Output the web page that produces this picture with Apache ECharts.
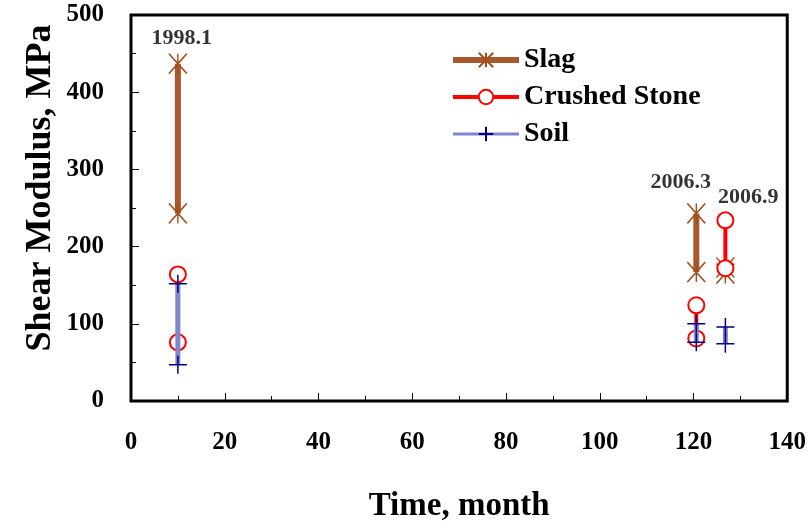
<!DOCTYPE html>
<html>
<head>
<meta charset="utf-8">
<style>
  html, body { margin: 0; padding: 0; background: #fff; }
  #main { width: 809px; height: 528px; }
</style>
<script src="https://cdn.jsdelivr.net/npm/echarts@6/dist/echarts.min.js"></script>
</head>
<body>
<div id="main"></div>
<script>
// values: [month, modulus], '-' breaks the line
var slag = [[10, 437], [10, 243], [10, '-'], [120.6, 243], [120.6, 167], [120.6, '-'], [126.8, 173], [126.8, 165]];
var crushedStone = [[10, 164], [10, 76], [10, '-'], [120.6, 124], [120.6, 81], [120.6, '-'], [126.8, 234], [126.8, 172]];
var soil = [[10, 152], [10, 47], [10, '-'], [120.6, 100], [120.6, 76], [120.6, '-'], [126.8, 96], [126.8, 74]];
var dateLabels = [
  { name: "1998.1", value: [10.8, 470] },
  { name: "2006.3", value: [117.3, 283] },
  { name: "2006.9", value: [131.7, 264] }
];
var xTicks = [0, 140, 20];
var yTicks = [0, 500, 100];

var font = "'Liberation Serif', 'Times New Roman', serif";
var myChart = echarts.init(document.getElementById("main"));

myChart.setOption({
  animation: false,
  textStyle: { fontFamily: font },
  grid: {
    left: 131, right: 16, top: 15, bottom: 126,
    show: true, borderColor: "#000", borderWidth: 3
  },
  legend: {
    left: 450, top: 46, orient: "vertical", padding: 0,
    itemWidth: 66, itemHeight: 18, itemGap: 9,
    textStyle: { fontFamily: font, fontWeight: "bold", fontSize: 28, color: "#000" },
    data: [
      { name: "Slag", lineStyle: { width: 6 } },
      { name: "Crushed Stone", lineStyle: { width: 4 } },
      { name: "Soil", lineStyle: { width: 3 } }
    ]
  },
  xAxis: {
    type: "value", min: xTicks[0], max: xTicks[1], interval: xTicks[2],
    name: "Time, month", nameLocation: "middle", nameGap: 89,
    nameTextStyle: { fontFamily: font, fontWeight: "bold", fontSize: 33, color: "#000" },
    axisLine: { show: false },
    axisTick: { inside: true, length: 8, lineStyle: { color: "#000", width: 1 } },
    minorTick: { show: true, splitNumber: 2, length: 5, lineStyle: { color: "#000" } },
    splitLine: { show: false },
    axisLabel: { margin: 29, fontFamily: font, fontWeight: "bold", fontSize: 25, color: "#000" }
  },
  yAxis: {
    type: "value", min: yTicks[0], max: yTicks[1], interval: yTicks[2],
    axisLine: { show: false },
    axisTick: { inside: true, length: 8, lineStyle: { color: "#000", width: 1 } },
    minorTick: { show: true, splitNumber: 2, length: 5, lineStyle: { color: "#000" } },
    splitLine: { show: false },
    axisLabel: { margin: 27, fontFamily: font, fontWeight: "bold", fontSize: 25, color: "#000" }
  },
  graphic: [{
    type: "text", x: 41, y: 188, rotation: Math.PI / 2,
    style: {
      text: "Shear Modulus, MPa", fill: "#000",
      font: "bold 36px " + font, align: "center", verticalAlign: "middle"
    }
  }],
  series: [
    {
      name: "Slag", type: "line", data: slag, connectNulls: false,
      lineStyle: { color: "#A8582A", width: 6 },
      symbol: "path://M0,0 L10,10 M10,0 L0,10 M5,0 L5,10", symbolSize: [18, 20],
      itemStyle: { color: "none", borderColor: "#A0501E", borderWidth: 1.5 },
      z: 2
    },
    {
      name: "Crushed Stone", type: "line", data: crushedStone, connectNulls: false,
      lineStyle: { color: "#FF0000", width: 4 },
      symbol: "emptyCircle", symbolSize: 16,
      itemStyle: { color: "#FF0000", borderWidth: 1.5 },
      z: 3
    },
    {
      name: "Soil", type: "line", data: soil, connectNulls: false,
      lineStyle: { color: "#7F86CC", width: 5 },
      symbol: "path://M5,0 L5,10 M0,5 L10,5", symbolSize: [18, 18],
      itemStyle: { color: "none", borderColor: "#000080", borderWidth: 1.5 },
      z: 4
    },
    {
      name: "dates", type: "scatter", data: dateLabels, symbolSize: 0,
      silent: true, z: 5,
      label: {
        show: true, position: "inside", formatter: "{b}",
        fontFamily: font, fontWeight: "bold", fontSize: 22, color: "#000"
      }
    }
  ]
});
</script>
</body>
</html>
